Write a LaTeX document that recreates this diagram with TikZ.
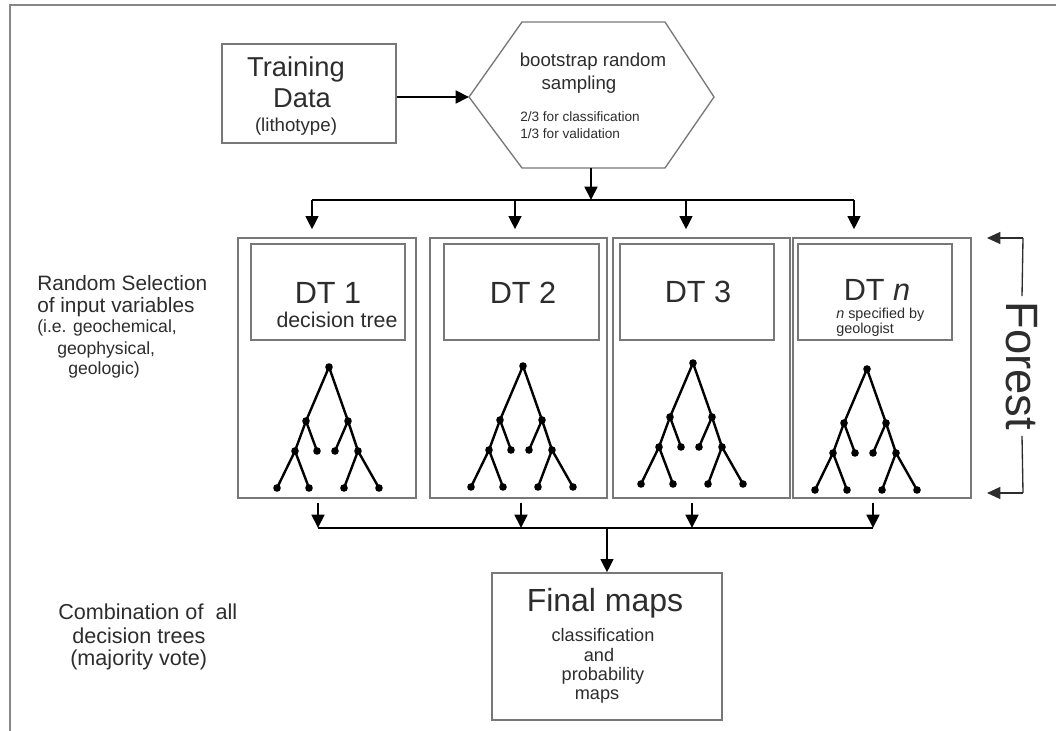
\documentclass[tikz,border=0pt]{standalone}
\usepackage{fontspec}
\setmainfont{Liberation Sans}
\usetikzlibrary{arrows.meta,fit}
\definecolor{txt}{RGB}{45,45,45}
\definecolor{bord}{RGB}{120,120,120}
\definecolor{framec}{RGB}{135,135,135}
\newcommand{\fs}[1]{\fontsize{#1}{#1}\selectfont}
\begin{document}
\begin{tikzpicture}[x=0.75pt,y=-0.75pt,
  box/.style={draw=bord,line width=1pt,inner sep=0pt},
  arr/.style={line width=2pt,-{Triangle[length=10pt,width=9.5pt]}},
  busline/.style={line width=2pt},
  tl/.style={line width=1.8pt,line cap=round,line join=round},
  lbl/.style={text=txt,inner sep=0pt,anchor=center},
  lblw/.style={text=txt,inner sep=0pt,anchor=west},
  dtree/.pic={
    \draw[tl] (-52,121) -- (-34,84) -- (-23,54) -- (0,0) -- (19,54) -- (29,84) -- (50,121);
    \draw[tl] (-34,84) -- (-20,121);
    \draw[tl] (-23,54) -- (-12,84);
    \draw[tl] (19,54) -- (6,84);
    \draw[tl] (29,84) -- (15,121);
    \foreach \p in {(0,0),(-23,54),(19,54),(-34,84),(-12,84),(6,84),(29,84),(-52,121),(-20,121),(15,121),(50,121)}
      \fill \p circle[radius=3.8];
  }]
\useasboundingbox (0,0) rectangle (1056,731);
\fill[white] (0,0) rectangle (1056,731);
% outer frame
\draw[framec,line width=2.2pt] (10,731) -- (10,5) -- (1056,5);

% training data
\node[box,fit={(222,44) (396,143)}] (train) {};
\node[lbl,font=\fs{20.5}] (tr1) at (296,69) {Training};
\node[lbl,font=\fs{20.5}] (tr2) at (302,98) {Data};
\node[lbl,font=\fs{14}] (tr3) at (296,127) {(lithotype)};

% hexagon
\coordinate (hexL) at (469,97);
\coordinate (hexR) at (714,97);
\coordinate (hexB) at (591,168);
\draw[draw=bord,line width=1pt] (hexL) -- (522,22) -- (665,22) -- (hexR) -- (665,168) -- (522,168) -- cycle;
\node[lbl,font=\fs{14}] (hx1) at (593,62) {bootstrap random};
\node[lbl,font=\fs{14}] (hx2) at (579,85) {sampling};
\node[lblw,font=\fs{10.2}] (hx3) at (520,117) {2/3 for classification};
\node[lblw,font=\fs{10.2}] (hx4) at (520,134) {1/3 for validation};
\draw[arr] (train.east |- hexL) -- (hexL);

% decision tree boxes
\node[box,fit={(238,238) (416,498)}] (dt1) {};
\node[box,fit={(430,238) (607,498)}] (dt2) {};
\node[box,fit={(613,238) (790,498)}] (dt3) {};
\node[box,fit={(793,238) (971,498)}] (dtn) {};
\node[box,fit={(251,244) (405,340)}] (in1) {};
\node[box,fit={(444,244) (599,340)}] (in2) {};
\node[box,fit={(620,244) (774,340)}] (in3) {};
\node[box,fit={(798,244) (952,340)}] (inn) {};
\node[lbl,font=\fs{23}] (l1) at (328,293) {DT 1};
\node[lbl,font=\fs{16}] (l1b) at (337,320) {decision tree};
\node[lbl,font=\fs{23}] (l2) at (523,293) {DT 2};
\node[lbl,font=\fs{23}] (l3) at (698,292) {DT 3};
\node[lbl,font=\fs{23}] (ln) at (877,290) {DT \textit{n}};
\node[lblw,font=\fs{10.8}] (lnb) at (836,315) {\textit{n} specified by};
\node[lblw,font=\fs{10.8}] (lnc) at (836,330) {geologist};

\pic at (329,367) {dtree};
\pic at (523,366) {dtree};
\pic at (693,363) {dtree};
\pic at (867,369) {dtree};

% upper distribution bus
\coordinate (bm) at (591,200);
\coordinate (t1) at (312,200);
\coordinate (t2) at (515,200);
\coordinate (t3) at (686,200);
\coordinate (t4) at (854,200);
\draw[arr] (hexB) -- (bm);
\draw[busline] (t1) -- (t4);
\draw[arr,shorten >=6pt] (t1) -- (t1 |- dt1.north);
\draw[arr,shorten >=6pt] (t2) -- (t2 |- dt2.north);
\draw[arr,shorten >=6pt] (t3) -- (t3 |- dt3.north);
\draw[arr,shorten >=6pt] (t4) -- (t4 |- dtn.north);

% lower collection bus
\coordinate (u1) at (318,528);
\coordinate (u2) at (521,528);
\coordinate (u3) at (692,528);
\coordinate (u4) at (873,528);
\coordinate (um) at (607,528);
\draw[arr,shorten <=3pt] (u1 |- dt1.south) -- (u1);
\draw[arr,shorten <=3pt] (u2 |- dt2.south) -- (u2);
\draw[arr,shorten <=3pt] (u3 |- dt3.south) -- (u3);
\draw[arr,shorten <=3pt] (u4 |- dtn.south) -- (u4);
\draw[busline] (u1) -- (u4);

% final maps
\node[box,fit={(492,573) (722,720)}] (final) {};
\draw[arr] (um) -- (um |- final.north);
\node[lbl,font=\fs{24}] (f1) at (605,603) {Final maps};
\node[lbl,font=\fs{13.6}] (f2) at (603,635) {classification};
\node[lbl,font=\fs{13.6}] (f3) at (599,655) {and};
\node[lbl,font=\fs{13.6}] (f4) at (603,676) {probability};
\node[lbl,font=\fs{13.6}] (f5) at (597,696) {maps};

% left annotations
\node[lblw,font=\fs{15.6}] (r1) at (37,283) {Random Selection};
\node[lblw,font=\fs{15.6}] (r2) at (37,307) {of input variables};
\node[lblw,font=\fs{13.2}] (r3) at (37,328) {(i.e. geochemical,};
\node[lblw,font=\fs{13.2}] (r4) at (57,350) {geophysical,};
\node[lblw,font=\fs{13.2}] (r5) at (68,370) {geologic)};
\node[lblw,font=\fs{16.2}] (c1) at (58,612) {Combination of\ \ all};
\node[lblw,font=\fs{16.2}] (c2) at (72,636) {decision trees};
\node[lblw,font=\fs{16.2}] (c3) at (70,660) {(majority vote)};

% forest bracket
\coordinate (ft) at (1023,238);
\coordinate (fb) at (1023,493);
\coordinate (fta) at (987,238);
\coordinate (fba) at (987,493);
\node[text=txt,font=\fs{34},rotate=-90,inner sep=4pt] (forest) at (1022,366) {Forest};
\draw[line width=1pt,draw=txt] (forest.west) -- (ft);
\draw[line width=1pt,draw=txt] (forest.east) -- (fb);
\draw[line width=1pt,draw=txt,-{Triangle[length=10pt,width=9pt]}] (ft) -- (fta);
\draw[line width=1pt,draw=txt,-{Triangle[length=10pt,width=9pt]}] (fb) -- (fba);
\end{tikzpicture}
\end{document}
